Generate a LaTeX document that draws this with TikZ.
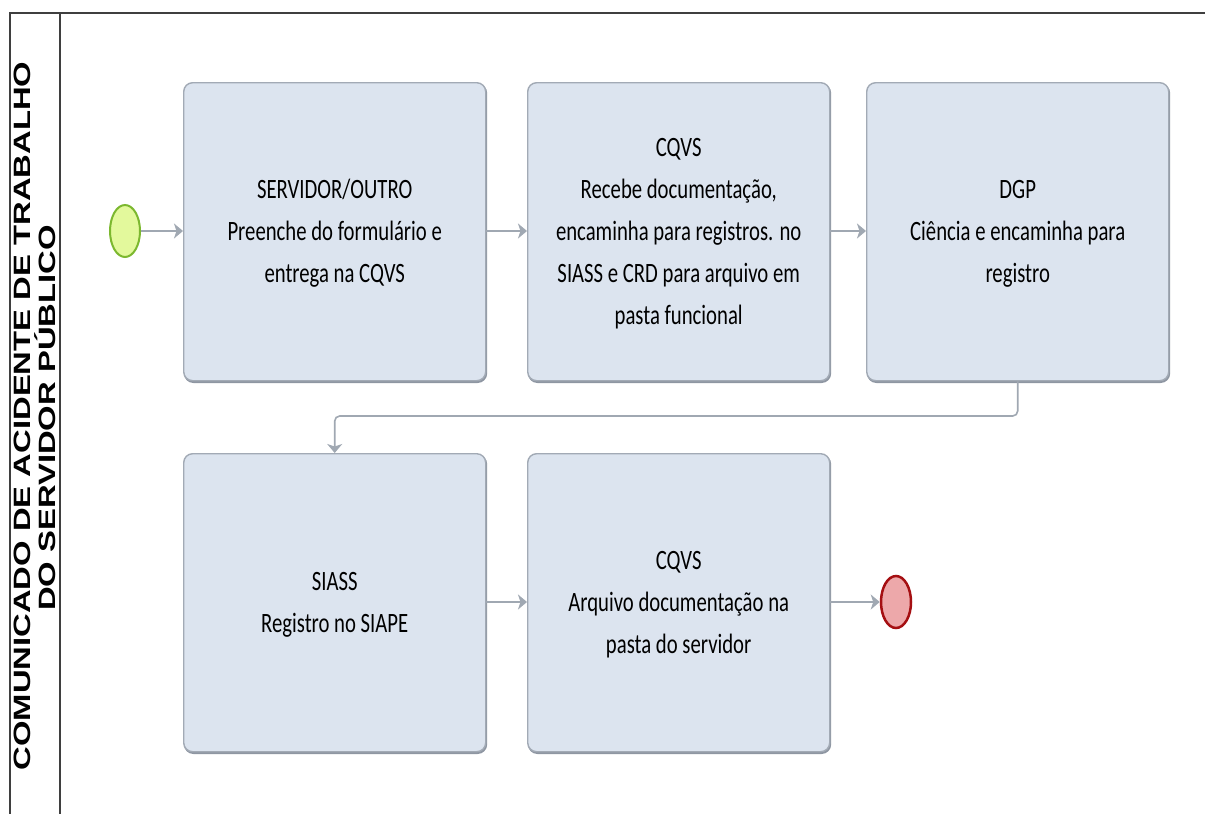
\documentclass[tikz,border=0pt]{standalone}
\usepackage{fontspec}
\setmainfont{Carlito}
\newfontfamily\lanefont{Liberation Sans}
\usetikzlibrary{arrows.meta,shapes.geometric}
\definecolor{boxfill}{HTML}{DCE4EF}
\definecolor{boxline}{HTML}{A2AAB5}
\definecolor{boxshadow}{HTML}{8E96A2}
\definecolor{flow}{HTML}{A0A8B2}
\definecolor{startfill}{HTML}{E3F99C}
\definecolor{startline}{HTML}{7CB82F}
\definecolor{endfill}{HTML}{EDA8AA}
\definecolor{endline}{HTML}{A50F12}
\definecolor{pool}{HTML}{3F3F3F}
\newcommand\boxtext[1]{\scalebox{0.74}[1]{\fontsize{28}{42}\selectfont\begin{tabular}{@{}c@{}}#1\end{tabular}}}
\newcommand\lanetext[1]{\scalebox{1}[0.72]{\lanefont\bfseries\fontsize{32.8}{36}\selectfont #1}}
\tikzset{
  task/.style={draw=boxline, line width=1.4pt, fill=boxfill, rounded corners=9pt,
    minimum width=302pt, minimum height=298pt, inner sep=0pt, anchor=north west,
    text=black},
  shadowed/.style={preaction={draw=boxshadow, line width=1.4pt, fill=boxshadow, rounded corners=9pt, transform canvas={xshift=0.8pt,yshift=-1.6pt}}},
  flowline/.style={draw=flow, line width=1.6pt, -{Stealth[length=9pt,width=15pt,inset=2.5pt]}},
  evstart/.style={ellipse, draw=startline, fill=startfill, line width=2pt, minimum width=30pt, minimum height=52pt, inner sep=0pt},
  evend/.style={ellipse, draw=endline, fill=endfill, line width=2.5pt, minimum width=30pt, minimum height=52pt, inner sep=0pt},
  poolline/.style={draw=pool, line width=1.6pt},
  lanelabel/.style={rotate=90, inner sep=0pt, anchor=base},
}
\begin{document}
\begin{tikzpicture}[x=1pt,y=-1pt]
\useasboundingbox (0,0) rectangle (1205,814);
% pool
\draw[poolline] (10,814) -- (10,13) -- (1205,13);
\draw[poolline] (60,13) -- (60,814);
\node[lanelabel] (lane1) at (30,416) {\lanetext{COMUNICADO DE ACIDENTE DE TRABALHO}};
\node[lanelabel] (lane2) at (55,418) {\lanetext{DO SERVIDOR PÚBLICO}};
% tasks
\node[task, shadowed] (b1) at (183,82) {\boxtext{SERVIDOR/OUTRO\\Preenche do formulário e\\entrega na CQVS}};
\node[task, shadowed] (b2) at (527,82) {\boxtext{CQVS\\Recebe documentação,\\encaminha para registros. no\\SIASS e CRD para arquivo em\\pasta funcional}};
\node[task, shadowed] (b3) at (866,82) {\boxtext{DGP\\Ciência e encaminha para\\registro}};
\node[task, shadowed] (b4) at (183,453) {\boxtext{SIASS\\Registro no SIAPE}};
\node[task, shadowed] (b5) at (527,453) {\boxtext{CQVS\\Arquivo documentação na\\pasta do servidor}};
% events
\node[evstart] (s) at (125,231) {};
\node[evend] (e) at (896,602) {};
% flows
\draw[flowline] (s.east) -- (s.east -| b1.west);
\draw[flowline] (b1.east |- s.east) -- (b2.west |- s.east);
\draw[flowline] (b2.east |- s.east) -- (b3.west |- s.east);
\coordinate (k) at (0,416);
\draw[flowline, rounded corners=5pt] (b3.south) -- (b3.south |- k) -- (b4.north |- k) -- (b4.north);
\draw[flowline] (b4.east |- e.west) -- (b5.west |- e.west);
\draw[flowline] (b5.east |- e.west) -- (e.west);
\end{tikzpicture}
\end{document}
